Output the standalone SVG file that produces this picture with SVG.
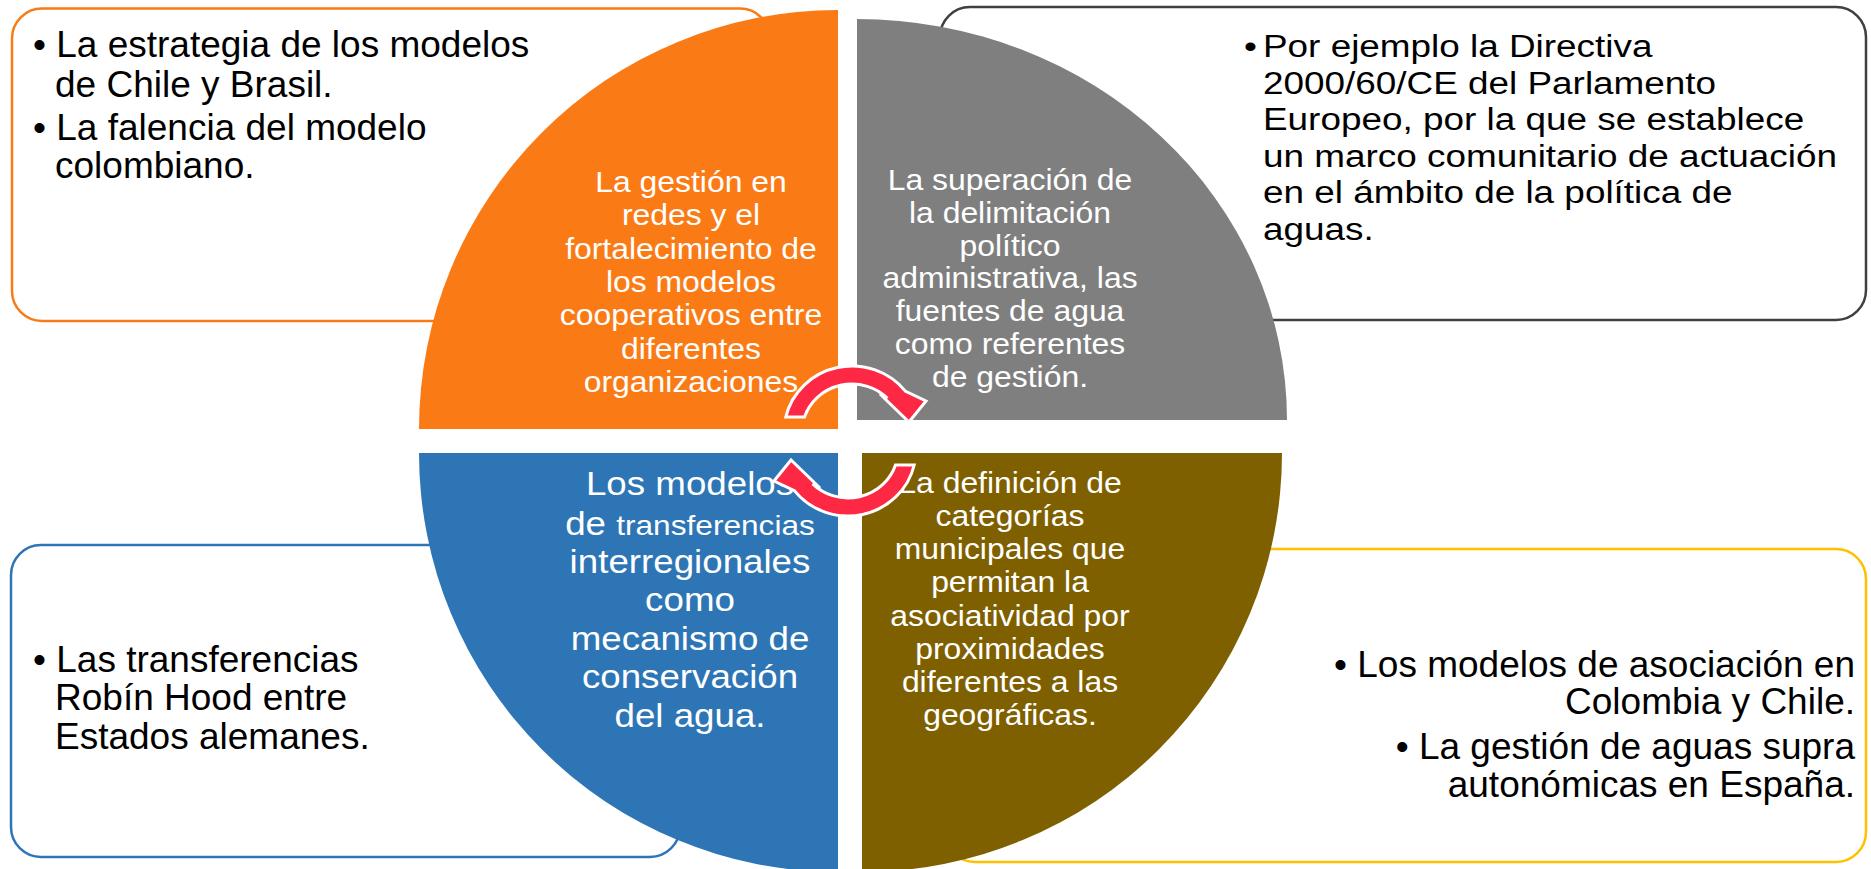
<svg xmlns="http://www.w3.org/2000/svg" width="1871" height="869" viewBox="0 0 1871 869">
<style>
text{font-family:"Liberation Sans",Arial,sans-serif;}
.box{fill:#FFFFFF;stroke-width:2.5;}
.bt{font-size:37px;fill:#000000;}
.ct{font-size:29px;fill:#FFFFFF;text-anchor:middle;}
.arrow{fill:#FC2844;stroke:#FFFFFF;stroke-width:3;stroke-linejoin:miter;}
</style>
<defs>
<path id="circ-arrow" d="M785.8,417 A68,66 0 0 1 905.6,391.4 L926,401 L909,422 L880,394 L887.4,398.1 A50,48 0 0 0 804.5,417 Z"/>
</defs>
<rect width="1871" height="869" fill="#FFFFFF"/>
<g id="box-top-left">
<rect class="box" x="12" y="8.5" width="758" height="312.5" rx="30" stroke="#F97B16"/>
<text class="bt" x="33" y="57">• La estrategia de los modelos</text>
<text class="bt" x="55" y="97">de Chile y Brasil.</text>
<text class="bt" x="33" y="140">• La falencia del modelo</text>
<text class="bt" x="55" y="178">colombiano.</text>
</g>
<g id="box-top-right">
<rect class="box" x="940" y="7" width="926" height="313" rx="30" stroke="#404040"/>
<g transform="translate(1263,0) scale(1.19,1)" style="font-size:31px;fill:#000000">
<text x="-16" y="57">•</text>
<text x="0" y="57">Por ejemplo la Directiva</text>
<text x="0" y="93.6">2000/60/CE del Parlamento</text>
<text x="0" y="130.2">Europeo, por la que se establece</text>
<text x="0" y="166.8">un marco comunitario de actuación</text>
<text x="0" y="203.4">en el ámbito de la política de</text>
<text x="0" y="240">aguas.</text>
</g>
</g>
<g id="box-bottom-left">
<rect class="box" x="11" y="545" width="669" height="312" rx="30" stroke="#2E75B6"/>
<text class="bt" x="33" y="672">• Las transferencias</text>
<text class="bt" x="55" y="710">Robín Hood entre</text>
<text class="bt" x="55" y="749">Estados alemanes.</text>
</g>
<g id="box-bottom-right">
<rect class="box" x="945" y="549" width="921" height="313" rx="30" stroke="#FFC000"/>
<g class="bt" style="text-anchor:end">
<text x="1855" y="677">• Los modelos de asociación en</text>
<text x="1855" y="714">Colombia y Chile.</text>
<text x="1855" y="759">• La gestión de aguas supra</text>
<text x="1855" y="797">autonómicas en España.</text>
</g>
</g>
<g id="quad-orange">
<path d="M838,429 L419,429 A419,419 0 0 1 838,10 Z" fill="#FA7B16"/>
<g transform="translate(691,0) scale(1.1,1)">
<text class="ct" x="0" y="192">La gestión en</text>
<text class="ct" x="0" y="225.3">redes y el</text>
<text class="ct" x="0" y="258.6">fortalecimiento de</text>
<text class="ct" x="0" y="292">los modelos</text>
<text class="ct" x="0" y="325.3">cooperativos entre</text>
<text class="ct" x="0" y="358.6">diferentes</text>
<text class="ct" x="0" y="392">organizaciones</text>
</g>
</g>
<g id="quad-gray">
<path d="M857,420 L857,19 A430,401 0 0 1 1287,420 Z" fill="#7F7F7F"/>
<g transform="translate(1010,0) scale(1.1,1)">
<text class="ct" x="0" y="190">La superación de</text>
<text class="ct" x="0" y="222.8">la delimitación</text>
<text class="ct" x="0" y="255.6">político</text>
<text class="ct" x="0" y="288.4">administrativa, las</text>
<text class="ct" x="0" y="321.2">fuentes de agua</text>
<text class="ct" x="0" y="354">como referentes</text>
<text class="ct" x="0" y="387">de gestión.</text>
</g>
</g>
<g id="quad-blue">
<path d="M838,453 L838,872 A419,419 0 0 1 419,453 Z" fill="#2E75B6"/>
<g transform="translate(690,0) scale(1.13,1)" style="fill:#FFFFFF;text-anchor:middle;font-size:32.5px">
<text x="0" y="495">Los modelos</text>
<text x="0" y="535">de <tspan style="font-size:28px">transferencias</tspan></text>
<text x="0" y="573">interregionales</text>
<text x="0" y="611">como</text>
<text x="0" y="650">mecanismo de</text>
<text x="0" y="688">conservación</text>
<text x="0" y="727">del agua.</text>
</g>
</g>
<g id="quad-brown">
<path d="M862,453 L1282,453 A420,419 0 0 1 862,872 Z" fill="#7F6000"/>
<g transform="translate(1010,0) scale(1.1,1)">
<text class="ct" x="0" y="493">La definición de</text>
<text class="ct" x="0" y="526">categorías</text>
<text class="ct" x="0" y="559">municipales que</text>
<text class="ct" x="0" y="592">permitan la</text>
<text class="ct" x="0" y="626">asociatividad por</text>
<text class="ct" x="0" y="659">proximidades</text>
<text class="ct" x="0" y="692">diferentes a las</text>
<text class="ct" x="0" y="725">geográficas.</text>
</g>
</g>
<g id="connectors">
<use href="#circ-arrow" class="arrow"/>
<use href="#circ-arrow" class="arrow" transform="rotate(180 850 441)"/>
</g>
</svg>
